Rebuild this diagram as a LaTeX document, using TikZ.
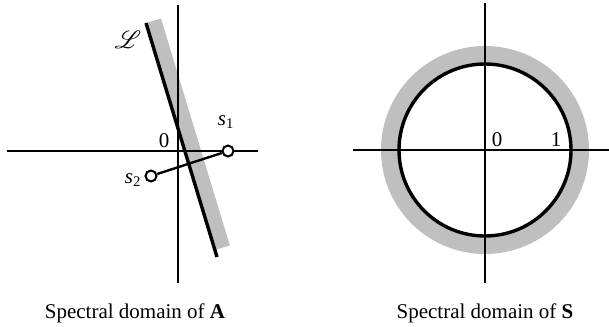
\documentclass[tikz,border=0pt]{standalone}
\usepackage{fontspec}
\setmainfont{Liberation Serif}
\usepackage{mathrsfs}
\usetikzlibrary{calc}

\begin{document}
\begin{tikzpicture}[
  x=1pt,y=-1pt,
  axis/.style={line width=2.5pt},
  bold/.style={line width=3.4pt},
  shade/.style={fill=gray!50},
  pt/.style={draw,circle,line width=2pt,fill=white,inner sep=0pt,minimum size=11pt},
  lbl/.style={font=\fontsize{21}{24}\selectfont,inner sep=0pt}
]
  \useasboundingbox (0,0) rectangle (609,326);
  % spectral domain of A
  \coordinate (la) at (146,23);
  \coordinate (lb) at (217,257);
  \fill[shade] (la) -- ($(la)!0.97!(lb)$) -- ($(la)!0.97!(lb)+(15,-4.5)$) -- ($(la)+(15,-4.5)$) -- cycle;
  \draw[axis] (7,151) coordinate (xa) -- (258,151) coordinate (xb);
  \draw[axis] (178,5) coordinate (ya) -- (178,283) coordinate (yb);
  \draw[bold] (la) -- (lb);
  \node[pt] (s1) at (228,151) {};
  \node[pt] (s2) at (151,176) {};
  \draw[line width=2.4pt] (s2) -- (s1);
  \node[lbl,font=\fontsize{25}{28}\selectfont] (ell) at (128,40) {$\mathscr{L}$};
  \node[lbl] (zeroa) at (164,141) {0};
  \node[lbl] (s1l) at (226,122) {\textit{s}\textsubscript{1}};
  \node[lbl] (s2l) at (133,180) {\textit{s}\textsubscript{2}};
  \node[lbl,anchor=base] (capa) at (135,318) {Spectral domain of \textbf{A}};
  % spectral domain of S
  \coordinate (o2) at (485,150);
  \fill[shade,even odd rule] (o2) circle (104pt) (o2) circle (86pt);
  \draw[axis] (353,150) coordinate (xc) -- (609,150) coordinate (xd);
  \draw[axis] (485,3) coordinate (yc) -- (485,283) coordinate (yd);
  \draw[bold] (o2) circle (86pt);
  \node[lbl] (zeros) at (497,140) {0};
  \node[lbl] (one) at (556,140) {1};
  \node[lbl,anchor=base] (caps) at (485,318) {Spectral domain of \textbf{S}};
\end{tikzpicture}
\end{document}
